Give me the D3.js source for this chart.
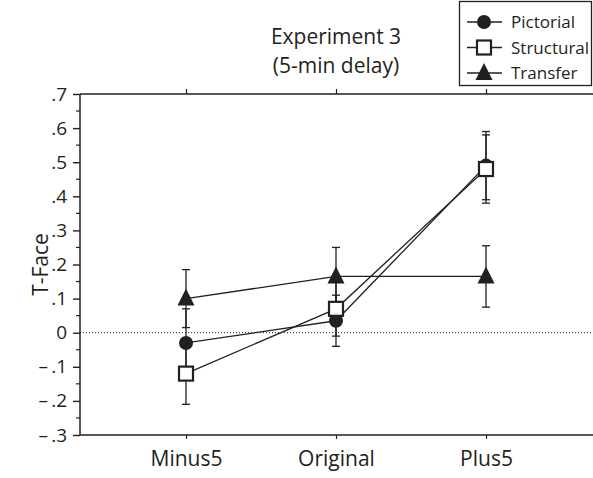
<!DOCTYPE html>
<html><head><meta charset="utf-8">
<script src="https://cdn.jsdelivr.net/npm/d3@7"></script>
<style>body{margin:0;background:#fff}svg{display:block}text{font-family:"Open Sans","Noto Sans",sans-serif;fill:#231f20}</style>
</head><body><svg id="c" width="593" height="478"></svg>
<script>
const categories = ["Minus5", "Original", "Plus5"];
const seriesNames = ["Pictorial", "Structural", "Transfer"];
const pictorial = [-0.03, 0.035, 0.49];
const pictorialErr = [0.10, 0.075, 0.10];
const structural = [-0.12, 0.07, 0.48];
const structuralErr = [0.09, 0.08, 0.10];
const transfer = [0.10, 0.165, 0.165];
const transferErr = [0.085, 0.085, 0.09];
const yTicks = [-0.3, -0.2, -0.1, 0, 0.1, 0.2, 0.3, 0.4, 0.5, 0.6, 0.7];
const yTickLabels = ["\u2013\u2009.3", "\u2013\u2009.2", "\u2013\u2009.1", "0", ".1", ".2", ".3", ".4", ".5", ".6", ".7"];

const svg = d3.select("#c");
const L = 80, R = 593, T = 94, B = 435;
const x = d3.scalePoint().domain(categories).range([186, 486]);
const y = d3.scaleLinear().domain([-0.3, 0.7]).range([B, T]);
const ink = "#231f20";

svg.append("line").attr("x1", L).attr("x2", R).attr("y1", T).attr("y2", T).attr("stroke", ink).attr("stroke-width", 1.5);
svg.append("line").attr("x1", L).attr("x2", R).attr("y1", y(0)).attr("y2", y(0))
  .attr("stroke", ink).attr("stroke-width", 1).attr("stroke-dasharray", "1,2");

const yAxis = d3.axisLeft(y).tickValues(yTicks).tickSize(7).tickPadding(6)
  .tickFormat((d, i) => yTickLabels[i]);
const gy = svg.append("g").attr("transform", `translate(${L},0)`).call(yAxis);
gy.selectAll("text").style("font-size", "19px").attr("fill", ink);
gy.selectAll("line,path").attr("stroke", ink).attr("stroke-width", 1.4);
gy.select("path").attr("d", `M0,${T}V${B}`).attr("stroke-width", 1.5);
const minor = d3.range(-0.25, 0.7, 0.1);
svg.append("g").selectAll("line").data(minor).join("line")
  .attr("x1", L - 4).attr("x2", L).attr("y1", d => y(d)).attr("y2", d => y(d))
  .attr("stroke", ink).attr("stroke-width", 1.2);

const xAxis = d3.axisBottom(x).tickSize(4).tickPadding(12);
const gx = svg.append("g").attr("transform", `translate(0,${B})`).call(xAxis);
gx.selectAll("text").style("font-size", "21px").attr("fill", ink);
gx.selectAll("line").attr("stroke", ink).attr("stroke-width", 1.2);
gx.select("path").attr("d", `M${L},0H${R}`).attr("stroke", ink).attr("stroke-width", 1.5);
const xTop = d3.axisTop(x).tickSize(5).tickFormat("");
const gt = svg.append("g").attr("transform", `translate(0,${T})`).call(xTop);
gt.select("path").remove();
gt.selectAll("line").attr("stroke", ink).attr("stroke-width", 1.2);

svg.append("text").attr("transform", `translate(48,${(T + B) / 2}) rotate(-90)`)
  .attr("text-anchor", "middle").style("font-size", "21px").text("T-Face");

svg.append("text").attr("x", 336).attr("y", 44).attr("text-anchor", "middle").style("font-size", "21px").text("Experiment 3");
svg.append("text").attr("x", 336).attr("y", 73).attr("text-anchor", "middle").style("font-size", "21px").text("(5-min delay)");

const series = [
  {name: seriesNames[0], v: pictorial, e: pictorialErr, shape: "circle"},
  {name: seriesNames[1], v: structural, e: structuralErr, shape: "square"},
  {name: seriesNames[2], v: transfer, e: transferErr, shape: "triangle"}
];

function marker(g, shape, cx, cy) {
  if (shape === "circle") {
    g.append("circle").attr("cx", cx).attr("cy", cy).attr("r", 7).attr("fill", ink);
  } else if (shape === "square") {
    g.append("rect").attr("x", cx - 7).attr("y", cy - 7).attr("width", 14).attr("height", 14)
      .attr("fill", "#fff").attr("stroke", ink).attr("stroke-width", 2.2);
  } else {
    g.append("path").attr("d", `M${cx},${cy - 10}L${cx + 8.5},${cy + 7}L${cx - 8.5},${cy + 7}Z`).attr("fill", ink);
  }
}

series.forEach(s => {
  const g = svg.append("g");
  categories.forEach((c, i) => {
    const cx = x(c), hi = y(s.v[i] + s.e[i]), lo = y(s.v[i] - s.e[i]);
    g.append("line").attr("x1", cx).attr("x2", cx).attr("y1", hi).attr("y2", lo).attr("stroke", ink).attr("stroke-width", 1.3);
    [hi, lo].forEach(yy => g.append("line").attr("x1", cx - 4).attr("x2", cx + 4).attr("y1", yy).attr("y2", yy).attr("stroke", ink).attr("stroke-width", 1.3));
  });
});
const line = d3.line().x((d, i) => x(categories[i])).y(d => y(d));
series.forEach(s => {
  svg.append("path").attr("d", line(s.v)).attr("fill", "none").attr("stroke", ink).attr("stroke-width", 1.3);
});
series.forEach(s => {
  const g = svg.append("g");
  categories.forEach((c, i) => marker(g, s.shape, x(c), y(s.v[i])));
});

svg.append("rect").attr("x", 459.5).attr("y", 1.5).attr("width", 132).attr("height", 84)
  .attr("fill", "#fff").attr("stroke", ink).attr("stroke-width", 1.3);
series.forEach((s, i) => {
  const ly = 22 + i * 25.5;
  const g = svg.append("g");
  g.append("line").attr("x1", 467).attr("x2", 502).attr("y1", ly).attr("y2", ly).attr("stroke", ink).attr("stroke-width", 1.3);
  marker(g, s.shape, 484, ly);
  g.append("text").attr("x", 511).attr("y", ly + 6).style("font-size", "17px").text(s.name);
});
</script></body></html>
